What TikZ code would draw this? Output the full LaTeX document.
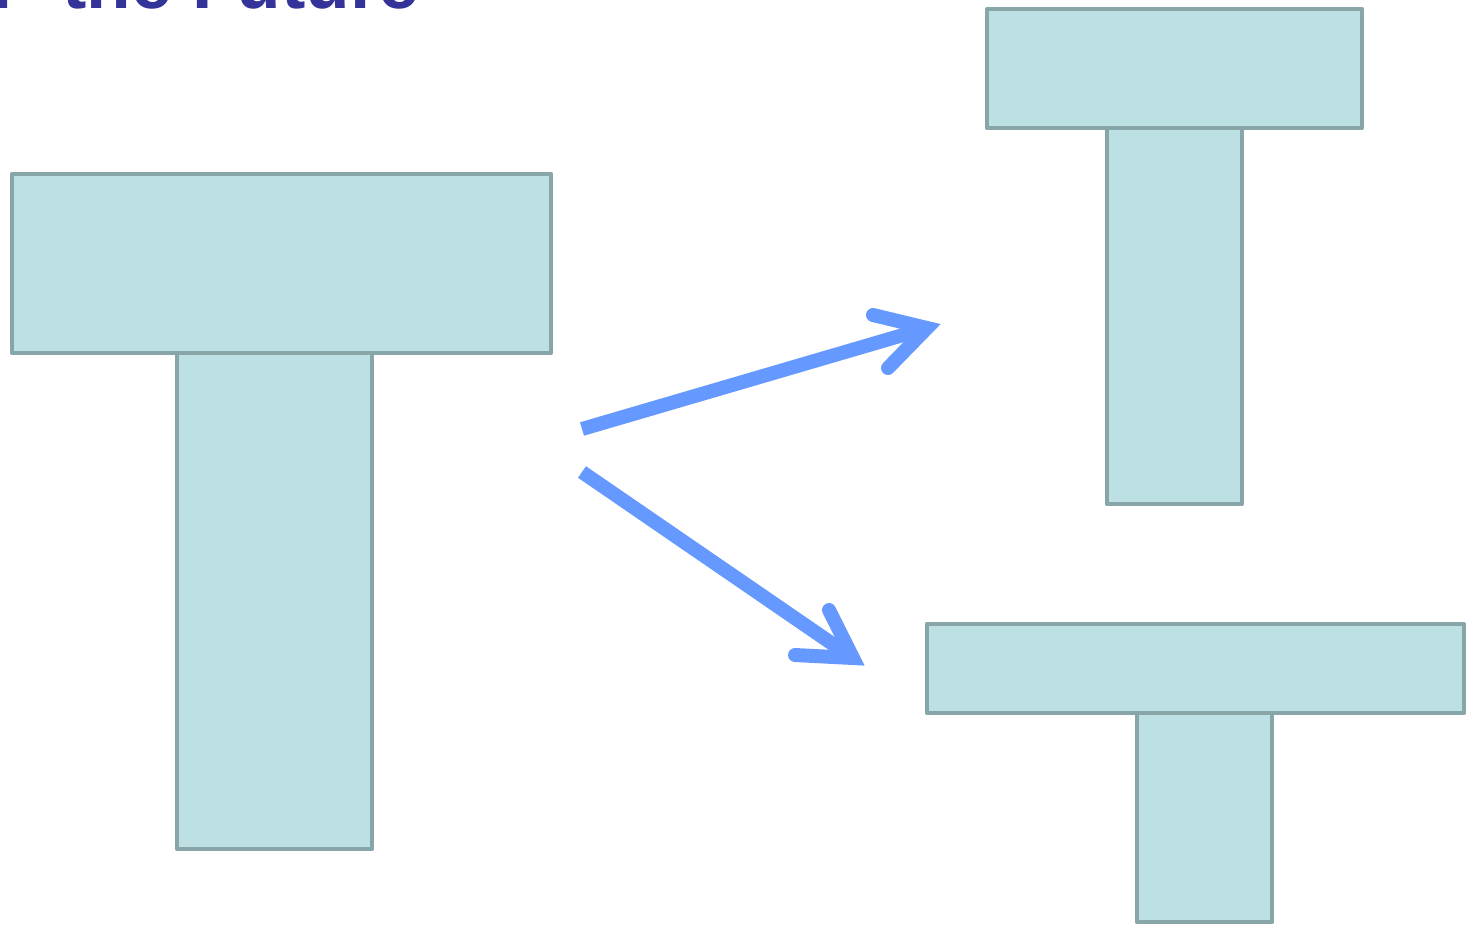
\documentclass[tikz,border=0pt]{standalone}
\usepackage{fontspec}
\newfontfamily\titlefont{Liberation Sans}
\definecolor{titleblue}{HTML}{333399}
\definecolor{arrowblue}{HTML}{6699FF}
\definecolor{tfill}{HTML}{BCE0E3}
\definecolor{tedge}{HTML}{88A5A7}
\begin{document}
\begin{tikzpicture}[x=1pt,y=-1pt,
  tbox/.style={draw=tedge,fill=tfill,line width=4.5pt,line join=round},
  shaft/.style={draw=arrowblue,line width=14pt,line cap=butt},
  headline/.style={draw=arrowblue,line width=14pt,line cap=round,line join=miter},
  titletext/.style={text=titleblue,font=\titlefont\bfseries\fontsize{73}{80}\selectfont,inner sep=0pt,anchor=base west}]
\useasboundingbox (0,0) rectangle (1466,926);
\clip (0,0) rectangle (1466,926);
\fill[white] (0,0) rectangle (1466,926);
% title (cut off at top)
\node[titletext] (title) at (-77,9) {for\hspace{42pt}the Future};
% left T
\path[tbox] (177,353) rectangle (372,849);
\path[tbox] (12,174) rectangle (551,353);
% top right T
\path[tbox] (1107,128) rectangle (1242,504);
\path[tbox] (987,9) rectangle (1362,128);
% bottom right T
\path[tbox] (1137,713) rectangle (1272,922);
\path[tbox] (927,624) rectangle (1464,713);
% arrows
\coordinate (a1s) at (582,429);
\coordinate (a1t) at (927,328);
\coordinate (a1b1) at (873,315);
\coordinate (a1b2) at (888,368);
\coordinate (a2s) at (582,472);
\coordinate (a2t) at (853,658);
\coordinate (a2b1) at (829,610);
\coordinate (a2b2) at (795,655);
\draw[shaft] (a1s) -- (a1t);
\draw[headline] (a1b1) -- (a1t) -- (a1b2);
\draw[shaft] (a2s) -- (a2t);
\draw[headline] (a2b1) -- (a2t) -- (a2b2);
\end{tikzpicture}
\end{document}
